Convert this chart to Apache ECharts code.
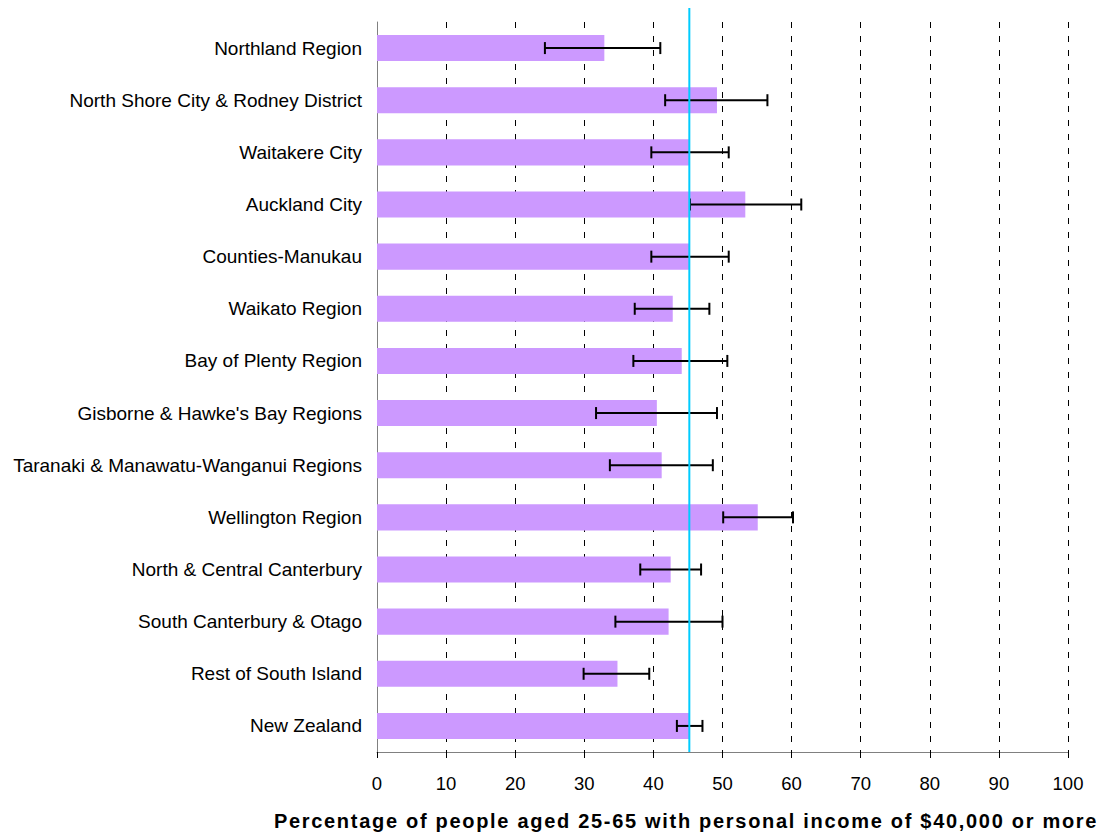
<!DOCTYPE html>
<html>
<head>
<meta charset="utf-8">
<script src="https://cdn.jsdelivr.net/npm/echarts@6/dist/echarts.min.js"></script>
<style>
html,body{margin:0;padding:0;background:#fff;}
#chart{width:1107px;height:834px;}
#chart text[style*="bold"]{letter-spacing:1.7px;}
</style>
</head>
<body>
<div id="chart"></div>
<script>
var categories = [
  "Northland Region",
  "North Shore City & Rodney District",
  "Waitakere City",
  "Auckland City",
  "Counties-Manukau",
  "Waikato Region",
  "Bay of Plenty Region",
  "Gisborne & Hawke's Bay Regions",
  "Taranaki & Manawatu-Wanganui Regions",
  "Wellington Region",
  "North & Central Canterbury",
  "South Canterbury & Otago",
  "Rest of South Island",
  "New Zealand"
];
var values = [32.9, 49.2, 45.2, 53.3, 45.2, 42.8, 44.1, 40.5, 41.2, 55.1, 42.5, 42.2, 34.8, 45.2];
var lowerCI = [24.3, 41.7, 39.7, 45.3, 39.7, 37.3, 37.1, 31.7, 33.7, 50.1, 38.1, 34.5, 29.9, 43.4];
var upperCI = [41.0, 56.5, 50.9, 61.4, 50.9, 48.1, 50.7, 49.2, 48.6, 60.2, 46.9, 50.0, 39.4, 47.1];
var nzAverage = 45.2;
var xTicks = [0, 10, 20, 30, 40, 50, 60, 70, 80, 90, 100];
var axisTitle = "Percentage of people aged 25-65 with personal income of $40,000 or more";

var errData = categories.map(function (c, i) { return [lowerCI[i], upperCI[i], i]; });

var chart = echarts.init(document.getElementById('chart'), null, { renderer: 'svg' });
var FONT = '"Liberation Sans", Arial, sans-serif';
chart.setOption({
  animation: false,
  backgroundColor: '#ffffff',
  grid: { left: 377, right: 39, top: 22, bottom: 82, containLabel: false },
  xAxis: {
    type: 'value',
    min: xTicks[0],
    max: xTicks[xTicks.length - 1],
    interval: 10,
    axisLine: { show: true, lineStyle: { color: '#808080', width: 1 } },
    axisTick: { show: true, length: 6, lineStyle: { color: '#000', width: 1 } },
    axisLabel: { color: '#000', fontSize: 18.5, fontFamily: FONT, margin: 22 },
    splitLine: { show: true, lineStyle: { color: '#000', width: 1, type: [6, 8] } }
  },
  yAxis: {
    type: 'category',
    data: categories,
    inverse: true,
    axisLine: { show: true, lineStyle: { color: '#808080', width: 1 } },
    axisTick: { show: false },
    axisLabel: { color: '#000', fontSize: 19, fontFamily: FONT, margin: 15 },
    splitLine: { show: false }
  },
  graphic: [{
    type: 'text',
    x: 686,
    y: 821,
    style: {
      text: axisTitle,
      fill: '#000',
      font: 'bold 20px ' + FONT,
      textAlign: 'center',
      textVerticalAlign: 'middle'
    }
  }],
  series: [
    {
      type: 'bar',
      data: values,
      barCategoryGap: '50%',
      itemStyle: { color: '#CC99FF' },
      z: 2
    },
    {
      type: 'custom',
      data: errData,
      z: 3,
      renderItem: function (params, api) {
        var idx = api.value(2);
        var p1 = api.coord([api.value(0), idx]);
        var p2 = api.coord([api.value(1), idx]);
        var h = 6;
        var st = { stroke: '#000', lineWidth: 2 };
        return {
          type: 'group',
          children: [
            { type: 'line', shape: { x1: p1[0], y1: p1[1], x2: p2[0], y2: p2[1] }, style: st },
            { type: 'line', shape: { x1: p1[0], y1: p1[1] - h, x2: p1[0], y2: p1[1] + h }, style: st },
            { type: 'line', shape: { x1: p2[0], y1: p2[1] - h, x2: p2[0], y2: p2[1] + h }, style: st }
          ]
        };
      }
    },
    {
      type: 'custom',
      data: [[nzAverage]],
      z: 4,
      clip: false,
      renderItem: function (params, api) {
        var p = api.coord([api.value(0), 0]);
        var cs = params.coordSys;
        return {
          type: 'line',
          shape: { x1: p[0], y1: cs.y - 14, x2: p[0], y2: cs.y + cs.height },
          style: { stroke: '#00CCFF', lineWidth: 2 }
        };
      }
    }
  ]
});
</script>
</body>
</html>
